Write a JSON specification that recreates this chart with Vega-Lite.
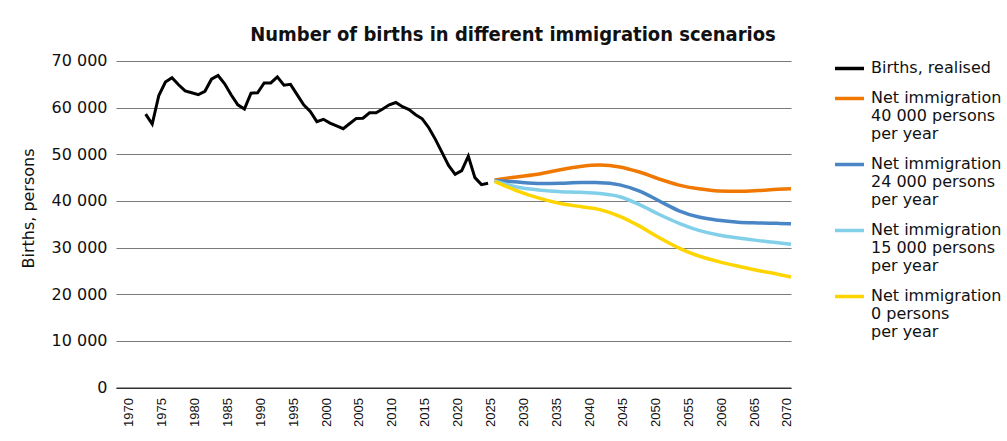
{
  "$schema": "https://vega.github.io/schema/vega-lite/v6.json",
  "autosize": {"type": "none"},
  "padding": {"left": 116, "top": 61, "right": 216, "bottom": 53},
  "width": 675,
  "height": 326.6,
  "background": "#ffffff",
  "config": {
    "locale": {"number": {"decimal": ".", "thousands": " ", "grouping": [3], "currency": ["", ""]}},
    "view": {"stroke": null},
    "font": "DejaVu Sans"
  },
  "title": {
    "text": "Number of births in different immigration scenarios",
    "font": "DejaVu Sans Condensed",
    "fontWeight": "bold",
    "fontSize": 20,
    "color": "#111111",
    "anchor": "middle",
    "frame": "group",
    "dx": 59.5,
    "baseline": "alphabetic",
    "offset": -9
  },
  "datasets": {
    "realised": [
      {"year": 1972, "births": 58600, "series": "Births, realised"},
      {"year": 1973, "births": 56500, "series": "Births, realised"},
      {"year": 1974, "births": 62600, "series": "Births, realised"},
      {"year": 1975, "births": 65500, "series": "Births, realised"},
      {"year": 1976, "births": 66400, "series": "Births, realised"},
      {"year": 1977, "births": 64900, "series": "Births, realised"},
      {"year": 1978, "births": 63600, "series": "Births, realised"},
      {"year": 1979, "births": 63200, "series": "Births, realised"},
      {"year": 1980, "births": 62800, "series": "Births, realised"},
      {"year": 1981, "births": 63500, "series": "Births, realised"},
      {"year": 1982, "births": 66100, "series": "Births, realised"},
      {"year": 1983, "births": 66900, "series": "Births, realised"},
      {"year": 1984, "births": 65100, "series": "Births, realised"},
      {"year": 1985, "births": 62700, "series": "Births, realised"},
      {"year": 1986, "births": 60600, "series": "Births, realised"},
      {"year": 1987, "births": 59700, "series": "Births, realised"},
      {"year": 1988, "births": 63100, "series": "Births, realised"},
      {"year": 1989, "births": 63200, "series": "Births, realised"},
      {"year": 1990, "births": 65300, "series": "Births, realised"},
      {"year": 1991, "births": 65300, "series": "Births, realised"},
      {"year": 1992, "births": 66600, "series": "Births, realised"},
      {"year": 1993, "births": 64800, "series": "Births, realised"},
      {"year": 1994, "births": 65000, "series": "Births, realised"},
      {"year": 1995, "births": 62800, "series": "Births, realised"},
      {"year": 1996, "births": 60600, "series": "Births, realised"},
      {"year": 1997, "births": 59200, "series": "Births, realised"},
      {"year": 1998, "births": 57000, "series": "Births, realised"},
      {"year": 1999, "births": 57500, "series": "Births, realised"},
      {"year": 2000, "births": 56700, "series": "Births, realised"},
      {"year": 2001, "births": 56100, "series": "Births, realised"},
      {"year": 2002, "births": 55500, "series": "Births, realised"},
      {"year": 2003, "births": 56600, "series": "Births, realised"},
      {"year": 2004, "births": 57700, "series": "Births, realised"},
      {"year": 2005, "births": 57750, "series": "Births, realised"},
      {"year": 2006, "births": 58900, "series": "Births, realised"},
      {"year": 2007, "births": 58900, "series": "Births, realised"},
      {"year": 2008, "births": 59700, "series": "Births, realised"},
      {"year": 2009, "births": 60600, "series": "Births, realised"},
      {"year": 2010, "births": 61100, "series": "Births, realised"},
      {"year": 2011, "births": 60200, "series": "Births, realised"},
      {"year": 2012, "births": 59600, "series": "Births, realised"},
      {"year": 2013, "births": 58500, "series": "Births, realised"},
      {"year": 2014, "births": 57600, "series": "Births, realised"},
      {"year": 2015, "births": 55700, "series": "Births, realised"},
      {"year": 2016, "births": 53200, "series": "Births, realised"},
      {"year": 2017, "births": 50400, "series": "Births, realised"},
      {"year": 2018, "births": 47600, "series": "Births, realised"},
      {"year": 2019, "births": 45700, "series": "Births, realised"},
      {"year": 2020, "births": 46500, "series": "Births, realised"},
      {"year": 2021, "births": 49600, "series": "Births, realised"},
      {"year": 2022, "births": 45000, "series": "Births, realised"},
      {"year": 2023, "births": 43500, "series": "Births, realised"},
      {"year": 2024, "births": 43800, "series": "Births, realised"}
    ],
    "scenarios": [
      {"year": 2025, "births": 44500, "series": "Net immigration|40 000 persons|per year"},
      {"year": 2028, "births": 45100, "series": "Net immigration|40 000 persons|per year"},
      {"year": 2032, "births": 45850, "series": "Net immigration|40 000 persons|per year"},
      {"year": 2035, "births": 46700, "series": "Net immigration|40 000 persons|per year"},
      {"year": 2038, "births": 47400, "series": "Net immigration|40 000 persons|per year"},
      {"year": 2041, "births": 47700, "series": "Net immigration|40 000 persons|per year"},
      {"year": 2044, "births": 47300, "series": "Net immigration|40 000 persons|per year"},
      {"year": 2047, "births": 46200, "series": "Net immigration|40 000 persons|per year"},
      {"year": 2050, "births": 44700, "series": "Net immigration|40 000 persons|per year"},
      {"year": 2053, "births": 43400, "series": "Net immigration|40 000 persons|per year"},
      {"year": 2056, "births": 42600, "series": "Net immigration|40 000 persons|per year"},
      {"year": 2059, "births": 42150, "series": "Net immigration|40 000 persons|per year"},
      {"year": 2062, "births": 42100, "series": "Net immigration|40 000 persons|per year"},
      {"year": 2065, "births": 42250, "series": "Net immigration|40 000 persons|per year"},
      {"year": 2068, "births": 42500, "series": "Net immigration|40 000 persons|per year"},
      {"year": 2070, "births": 42600, "series": "Net immigration|40 000 persons|per year"},
      {"year": 2025, "births": 44400, "series": "Net immigration|24 000 persons|per year"},
      {"year": 2028, "births": 44100, "series": "Net immigration|24 000 persons|per year"},
      {"year": 2032, "births": 43750, "series": "Net immigration|24 000 persons|per year"},
      {"year": 2035, "births": 43800, "series": "Net immigration|24 000 persons|per year"},
      {"year": 2038, "births": 43950, "series": "Net immigration|24 000 persons|per year"},
      {"year": 2041, "births": 43930, "series": "Net immigration|24 000 persons|per year"},
      {"year": 2044, "births": 43450, "series": "Net immigration|24 000 persons|per year"},
      {"year": 2047, "births": 42100, "series": "Net immigration|24 000 persons|per year"},
      {"year": 2050, "births": 40000, "series": "Net immigration|24 000 persons|per year"},
      {"year": 2053, "births": 37900, "series": "Net immigration|24 000 persons|per year"},
      {"year": 2056, "births": 36550, "series": "Net immigration|24 000 persons|per year"},
      {"year": 2059, "births": 35850, "series": "Net immigration|24 000 persons|per year"},
      {"year": 2062, "births": 35450, "series": "Net immigration|24 000 persons|per year"},
      {"year": 2065, "births": 35300, "series": "Net immigration|24 000 persons|per year"},
      {"year": 2068, "births": 35200, "series": "Net immigration|24 000 persons|per year"},
      {"year": 2070, "births": 35100, "series": "Net immigration|24 000 persons|per year"},
      {"year": 2025, "births": 44300, "series": "Net immigration|15 000 persons|per year"},
      {"year": 2028, "births": 43100, "series": "Net immigration|15 000 persons|per year"},
      {"year": 2032, "births": 42300, "series": "Net immigration|15 000 persons|per year"},
      {"year": 2035, "births": 42000, "series": "Net immigration|15 000 persons|per year"},
      {"year": 2038, "births": 41850, "series": "Net immigration|15 000 persons|per year"},
      {"year": 2041, "births": 41580, "series": "Net immigration|15 000 persons|per year"},
      {"year": 2044, "births": 40900, "series": "Net immigration|15 000 persons|per year"},
      {"year": 2047, "births": 39200, "series": "Net immigration|15 000 persons|per year"},
      {"year": 2050, "births": 37100, "series": "Net immigration|15 000 persons|per year"},
      {"year": 2053, "births": 35200, "series": "Net immigration|15 000 persons|per year"},
      {"year": 2056, "births": 33700, "series": "Net immigration|15 000 persons|per year"},
      {"year": 2059, "births": 32700, "series": "Net immigration|15 000 persons|per year"},
      {"year": 2062, "births": 32050, "series": "Net immigration|15 000 persons|per year"},
      {"year": 2065, "births": 31500, "series": "Net immigration|15 000 persons|per year"},
      {"year": 2068, "births": 31050, "series": "Net immigration|15 000 persons|per year"},
      {"year": 2070, "births": 30700, "series": "Net immigration|15 000 persons|per year"},
      {"year": 2025, "births": 44200, "series": "Net immigration|0 persons|per year"},
      {"year": 2028, "births": 42400, "series": "Net immigration|0 persons|per year"},
      {"year": 2032, "births": 40500, "series": "Net immigration|0 persons|per year"},
      {"year": 2035, "births": 39450, "series": "Net immigration|0 persons|per year"},
      {"year": 2038, "births": 38800, "series": "Net immigration|0 persons|per year"},
      {"year": 2041, "births": 38150, "series": "Net immigration|0 persons|per year"},
      {"year": 2044, "births": 36700, "series": "Net immigration|0 persons|per year"},
      {"year": 2047, "births": 34600, "series": "Net immigration|0 persons|per year"},
      {"year": 2050, "births": 32100, "series": "Net immigration|0 persons|per year"},
      {"year": 2053, "births": 29900, "series": "Net immigration|0 persons|per year"},
      {"year": 2056, "births": 28200, "series": "Net immigration|0 persons|per year"},
      {"year": 2059, "births": 27000, "series": "Net immigration|0 persons|per year"},
      {"year": 2062, "births": 26000, "series": "Net immigration|0 persons|per year"},
      {"year": 2065, "births": 25100, "series": "Net immigration|0 persons|per year"},
      {"year": 2068, "births": 24300, "series": "Net immigration|0 persons|per year"},
      {"year": 2070, "births": 23700, "series": "Net immigration|0 persons|per year"}
    ]
  },
  "encoding": {
    "x": {
      "field": "year",
      "type": "quantitative",
      "scale": {"domain": [1967.5, 2070], "nice": false, "zero": false},
      "axis": {
        "title": null,
        "values": [1970, 1975, 1980, 1985, 1990, 1995, 2000, 2005, 2010, 2015, 2020, 2025, 2030, 2035, 2040, 2045, 2050, 2055, 2060, 2065, 2070],
        "format": "d",
        "labelAngle": 270,
        "labelFont": "Liberation Sans",
        "labelFontSize": 13,
        "labelColor": "#111111",
        "labelPadding": 10,
        "labelOffset": -4,
        "labelOverlap": false,
        "labelFlush": false,
        "labelBound": false,
        "ticks": false,
        "grid": false,
        "domain": true,
        "domainColor": "#000000",
        "domainWidth": 1
      }
    },
    "y": {
      "field": "births",
      "type": "quantitative",
      "scale": {"domain": [0, 70000], "nice": false},
      "axis": {
        "title": "Births, persons",
        "titleFont": "DejaVu Sans",
        "titleFontSize": 16,
        "titleFontWeight": "normal",
        "titleColor": "#111111",
        "titleX": -88,
        "titleY": 147,
        "titleAngle": 270,
        "titleAlign": "center",
        "titleBaseline": "middle",
        "values": [0, 10000, 20000, 30000, 40000, 50000, 60000, 70000],
        "format": ",d",
        "labelFont": "DejaVu Sans",
        "labelFontSize": 16,
        "labelColor": "#111111",
        "labelPadding": 9,
        "ticks": false,
        "domain": false,
        "grid": true,
        "gridColor": "#7a7a7a",
        "gridWidth": 1.2
      }
    },
    "color": {
      "field": "series",
      "type": "nominal",
      "scale": {
        "domain": ["Births, realised", "Net immigration|40 000 persons|per year", "Net immigration|24 000 persons|per year", "Net immigration|15 000 persons|per year", "Net immigration|0 persons|per year"],
        "range": ["#000000", "#f07800", "#4a86c6", "#82cfea", "#ffd500"]
      },
      "legend": {
        "title": null,
        "orient": "none",
        "legendX": 717,
        "legendY": -9,
        "padding": 0,
        "symbolType": "stroke",
        "symbolSize": 841,
        "symbolStrokeWidth": 3.5,
        "labelFont": "DejaVu Sans",
        "labelFontSize": 16,
        "labelColor": "#111111",
        "labelOffset": 5,
        "labelLimit": 400,
        "rowPadding": 5,
        "labelExpr": "split(datum.label, '|')"
      }
    }
  },
  "layer": [
    {
      "data": {"name": "realised"},
      "mark": {"type": "line", "strokeWidth": 3, "interpolate": "linear"}
    },
    {
      "data": {"name": "scenarios"},
      "mark": {"type": "line", "strokeWidth": 3.5, "interpolate": "monotone"}
    }
  ]
}
